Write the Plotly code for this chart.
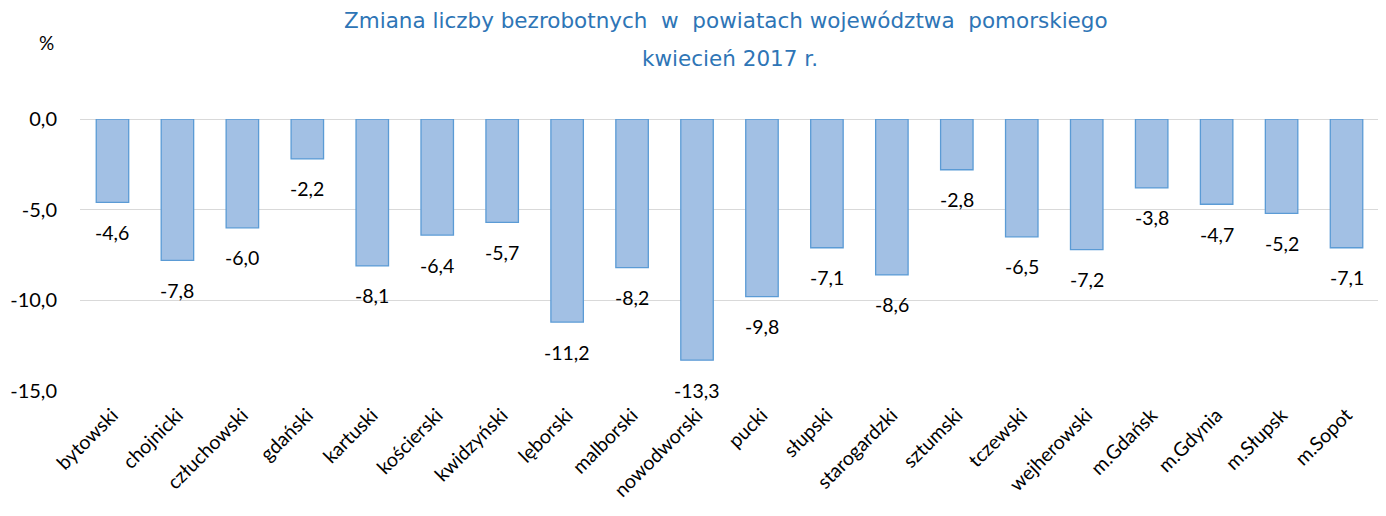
import plotly.graph_objects as go

categories = ["bytowski", "chojnicki", "człuchowski", "gdański", "kartuski", "kościerski",
              "kwidzyński", "lęborski", "malborski", "nowodworski", "pucki", "słupski",
              "starogardzki", "sztumski", "tczewski", "wejherowski", "m.Gdańsk", "m.Gdynia",
              "m.Słupsk", "m.Sopot"]
values = [-4.6, -7.8, -6.0, -2.2, -8.1, -6.4, -5.7, -11.2, -8.2, -13.3, -9.8, -7.1,
          -8.6, -2.8, -6.5, -7.2, -3.8, -4.7, -5.2, -7.1]
y_ticks = [0, -5, -10, -15]
y_tick_labels = ["0,0", "-5,0", "-10,0", "-15,0"]

FONT = "Lato"

fig = go.Figure(go.Bar(
    x=categories, y=values,
    marker=dict(color="#a2c0e4", line=dict(color="#5b9bd5", width=1.3)),
    hoverinfo="x+y",
))

annotations = []
for c, v in zip(categories, values):
    annotations.append(dict(
        x=c, y=v, xref="x", yref="y", text=f"{v:.1f}".replace(".", ","),
        showarrow=False, yshift=-30, xanchor="center", yanchor="middle",
        font=dict(family=FONT, size=19.5, color="#000000")))

annotations += [
    dict(text="Zmiana liczby bezrobotnych  w  powiatach województwa  pomorskiego",
         xref="paper", yref="paper", x=0.497, y=1.0, yshift=99, xanchor="center", yanchor="middle",
         showarrow=False, font=dict(family="DejaVu Sans", size=21.5, color="#2e75b6")),
    dict(text="kwiecień 2017 r.",
         xref="paper", yref="paper", x=0.5, y=1.0, yshift=61, xanchor="center", yanchor="middle",
         showarrow=False, font=dict(family="DejaVu Sans", size=21.5, color="#2e75b6")),
    dict(text="%", xref="paper", yref="paper", x=0, y=1.0, xshift=-34, yshift=77,
         xanchor="center", yanchor="middle", showarrow=False,
         font=dict(family=FONT, size=19, color="#000000")),
]

fig.update_layout(
    width=1386, height=516,
    margin=dict(l=71.5, r=14.5, t=111, b=133, autoexpand=False),
    paper_bgcolor="white", plot_bgcolor="white",
    bargap=0.5,
    showlegend=False,
    font=dict(family=FONT, color="#000000"),
    xaxis=dict(tickangle=-45, tickfont=dict(size=19.5, family=FONT, color="#000000"),
               showline=False, ticks="", showgrid=False, automargin=False,
               ticklabelshift=0, ticklabelstandoff=8),
    yaxis=dict(range=[-15, 0], tickvals=y_ticks, ticktext=y_tick_labels,
               tickfont=dict(size=20, family=FONT, color="#000000"),
               showgrid=True, gridcolor="#d9d9d9", gridwidth=1.3,
               zeroline=True, zerolinecolor="#d9d9d9", zerolinewidth=1.3,
               ticks="", showline=False, ticklabelstandoff=22, automargin=False),
    annotations=annotations,
)

fig.write_html("out.html")
